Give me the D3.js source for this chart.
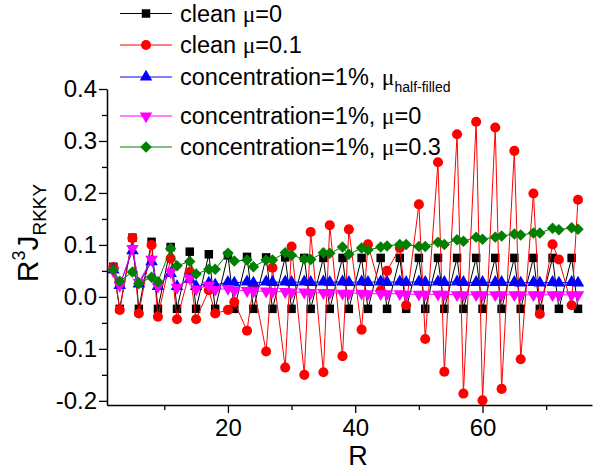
<!DOCTYPE html>
<html lang="en">

<head>
    <title>RKKY Interaction vs R</title>
    <meta charset="UTF-8">
    <script src="https://cdn.jsdelivr.net/npm/d3@7"></script>
    <style>
        body {
            margin: 0;
            background-color: #fff;
            font-family: Arial, "Liberation Sans", sans-serif;
        }

        .mu {
            font-family: "Liberation Serif", "DejaVu Serif", serif;
        }
    </style>
</head>

<body>
    <div id="chart"></div>

    <script>
        // distances R (sites with R mod 3 == 1 are absent)
        const rValues = [2, 3, 5, 6, 8, 9, 11, 12, 14, 15, 17, 18, 20, 21, 23, 24, 26, 27, 29, 30,
            32, 33, 35, 36, 38, 39, 41, 42, 44, 45, 47, 48, 50, 51, 53, 54, 56, 57, 59, 60,
            62, 63, 65, 66, 68, 69, 71, 72, 74, 75];

        const cleanMu0 = [0.058, -0.023, 0.114, -0.023, 0.106, -0.023, 0.096, -0.023, 0.087, -0.023,
            0.082, -0.023, 0.080, -0.023, 0.077, -0.023, 0.076, -0.023, 0.076, -0.023,
            0.075, -0.023, 0.075, -0.023, 0.075, -0.023, 0.075, -0.023, 0.075, -0.023,
            0.075, -0.023, 0.075, -0.023, 0.075, -0.023, 0.075, -0.023, 0.075, -0.023,
            0.075, -0.023, 0.075, -0.023, 0.075, -0.023, 0.075, -0.023, 0.075, -0.023];

        const cleanMu01 = [0.057, -0.025, 0.113, -0.032, 0.100, -0.038, 0.074, -0.043, 0.048, -0.043,
            0.013, -0.032, -0.025, -0.010, -0.065, 0.022, -0.105, 0.056, -0.136, 0.097,
            -0.150, 0.125, -0.145, 0.138, -0.114, 0.130, -0.063, 0.101, 0.012, 0.050,
            0.094, -0.016, 0.178, -0.081, 0.259, -0.144, 0.313, -0.186, 0.337, -0.199,
            0.326, -0.177, 0.281, -0.120, 0.199, -0.033, 0.101, 0.072, -0.016, 0.187];

        const concHalf = [0.052, 0.022, 0.089, 0.025, 0.068, 0.020, 0.045, 0.020, 0.034, 0.020,
            0.027, 0.023, 0.028, 0.027, 0.029, 0.027, 0.029, 0.028, 0.029, 0.028,
            0.029, 0.028, 0.029, 0.028, 0.029, 0.028, 0.029, 0.028, 0.029, 0.028,
            0.029, 0.028, 0.029, 0.028, 0.029, 0.028, 0.029, 0.028, 0.028, 0.028,
            0.028, 0.028, 0.028, 0.027, 0.028, 0.027, 0.028, 0.027, 0.028, 0.027];

        const concMu0 = [0.050, 0.022, 0.093, 0.028, 0.072, 0.020, 0.048, 0.018, 0.036, 0.015,
            0.022, 0.014, 0.016, 0.012, 0.012, 0.011, 0.011, 0.010, 0.010, 0.009,
            0.009, 0.008, 0.008, 0.008, 0.007, 0.007, 0.007, 0.006, 0.006, 0.006,
            0.006, 0.005, 0.005, 0.005, 0.005, 0.005, 0.004, 0.004, 0.004, 0.004,
            0.004, 0.004, 0.004, 0.004, 0.004, 0.004, 0.004, 0.004, 0.004, 0.004];

        const concMu03 = [0.052, 0.030, 0.048, 0.026, 0.038, 0.029, 0.093, 0.060, 0.068, 0.044,
            0.053, 0.053, 0.084, 0.069, 0.071, 0.058, 0.071, 0.071, 0.085, 0.080,
            0.073, 0.072, 0.085, 0.084, 0.096, 0.082, 0.094, 0.090, 0.096, 0.098,
            0.101, 0.101, 0.097, 0.097, 0.105, 0.101, 0.110, 0.107, 0.115, 0.111,
            0.115, 0.117, 0.121, 0.119, 0.123, 0.123, 0.132, 0.129, 0.133, 0.130];

        const yTicks = [-0.2, -0.1, 0.0, 0.1, 0.2, 0.3, 0.4];
        const yMinorTicks = [-0.15, -0.05, 0.05, 0.15, 0.25, 0.35];
        const xTicks = [20, 40, 60];
        const xMinorTicks = [10, 30, 50, 70];

        const series = [
            { name: "clean", mu: "=0", values: cleanMu0, color: "#000000", symbol: d3.symbolSquare, size: 72, rot: 0 },
            { name: "clean", mu: "=0.1", values: cleanMu01, color: "#ff0000", symbol: d3.symbolCircle, size: 80, rot: 0 },
            { name: "concentration=1%,", mu: "", sub: "half-filled", values: concHalf, color: "#0000ff", symbol: d3.symbolTriangle, size: 68, rot: 0 },
            { name: "concentration=1%,", mu: "=0", values: concMu0, color: "#ff00ff", symbol: d3.symbolTriangle, size: 68, rot: 180 },
            { name: "concentration=1%,", mu: "=0.3", values: concMu03, color: "#008000", symbol: d3.symbolSquare, size: 66, rot: 45 }
        ];

        const width = 600, height = 471;
        const margin = { top: 89, right: 8, bottom: 66, left: 107 };

        const svg = d3.select("#chart")
            .append("svg")
            .attr("width", width)
            .attr("height", height);

        const x = d3.scaleLinear()
            .domain([1, 77.2])
            .range([margin.left, width - margin.right]);

        const y = d3.scaleLinear()
            .domain([-0.208, 0.4])
            .range([height - margin.bottom, margin.top]);

        const fmt = v => v.toFixed(1).replace("\u2212", "-");

        // minor ticks
        svg.append("g")
            .attr("transform", `translate(${margin.left},0)`)
            .call(d3.axisLeft(y).tickValues(yMinorTicks).tickSize(5).tickFormat(""))
            .call(g => g.select(".domain").remove());

        svg.append("g")
            .attr("transform", `translate(0,${height - margin.bottom})`)
            .call(d3.axisBottom(x).tickValues(xMinorTicks).tickSize(5).tickFormat(""))
            .call(g => g.select(".domain").remove());

        // major axes
        svg.append("g")
            .attr("transform", `translate(${margin.left},0)`)
            .call(d3.axisLeft(y).tickValues(yTicks).tickSize(8).tickSizeOuter(0).tickPadding(2).tickFormat(fmt));

        svg.append("g")
            .attr("transform", `translate(0,${height - margin.bottom})`)
            .call(d3.axisBottom(x).tickValues(xTicks).tickSize(8).tickSizeOuter(0).tickPadding(6).tickFormat(d => d));

        svg.selectAll(".domain").attr("stroke-width", 1.5);
        svg.selectAll(".tick line").attr("stroke-width", 1.3);
        svg.selectAll(".tick text")
            .attr("font-family", "Arial, 'Liberation Sans', sans-serif")
            .attr("font-size", 24)
            .attr("fill", "#000");

        // axis titles
        svg.append("text")
            .attr("x", 358)
            .attr("y", 465)
            .attr("text-anchor", "middle")
            .attr("font-size", 27)
            .text("R");

        const yTitle = svg.append("text")
            .attr("transform", "translate(38,233) rotate(-90)")
            .attr("text-anchor", "middle")
            .attr("font-size", 30);
        yTitle.append("tspan").text("R");
        yTitle.append("tspan").attr("font-size", 18).attr("dy", -13).text("3");
        yTitle.append("tspan").attr("dy", 13).text("J");
        yTitle.append("tspan").attr("font-size", 19).attr("dy", 8).text("RKKY");

        // lines and markers
        const line = d3.line()
            .x((d, i) => x(rValues[i]))
            .y(d => y(d));

        series.forEach(s => {
            svg.append("path")
                .datum(s.values)
                .attr("fill", "none")
                .attr("stroke", s.color)
                .attr("stroke-width", 1)
                .attr("d", line);

            svg.append("g")
                .selectAll("path")
                .data(s.values)
                .join("path")
                .attr("transform", (d, i) => `translate(${x(rValues[i])},${y(d)}) rotate(${s.rot})`)
                .attr("d", d3.symbol().type(s.symbol).size(s.size))
                .attr("fill", s.color);
        });

        // legend
        const legendRows = [13.5, 45, 77, 116, 147];
        const legend = svg.selectAll(".legend")
            .data(series)
            .join("g")
            .attr("class", "legend")
            .attr("transform", (d, i) => `translate(0,${legendRows[i]})`);

        legend.append("line")
            .attr("x1", 120)
            .attr("x2", 172)
            .attr("stroke", d => d.color)
            .attr("stroke-width", 1);

        legend.append("path")
            .attr("transform", d => `translate(146,0) rotate(${d.rot})`)
            .attr("d", d => d3.symbol().type(d.symbol).size(d.size)())
            .attr("fill", d => d.color);

        const label = legend.append("text")
            .attr("x", 180)
            .attr("y", 8)
            .attr("font-size", 23.5);

        label.append("tspan").text(d => d.name + " ");
        label.append("tspan").attr("class", "mu").text("\u03bc");
        label.filter(d => d.sub)
            .append("tspan")
            .attr("font-size", 14)
            .attr("dy", 7)
            .text(d => d.sub);
        label.filter(d => !d.sub)
            .append("tspan")
            .text(d => d.mu);
    </script>
</body>

</html>
